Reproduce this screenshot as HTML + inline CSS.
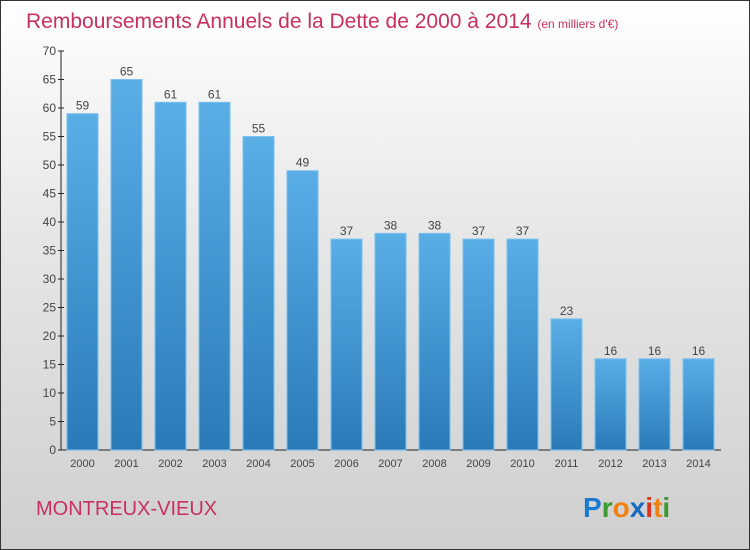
<!DOCTYPE html>
<html><head><meta charset="utf-8"><style>
body{margin:0}
#root{width:748px;height:548px;border:1px solid #333;background:linear-gradient(#ffffff,#e8e8e8 40%,#cfcfcf);position:relative;overflow:hidden;font-family:"Liberation Sans",sans-serif}
</style></head><body>
<div id="root">
<svg id="chart" width="748" height="548">
<defs><linearGradient id="bg" x1="0" y1="0" x2="0" y2="1"><stop offset="0" stop-color="#5aaee6"/><stop offset="1" stop-color="#2a7ab8"/></linearGradient></defs>
<text x="25" y="27" font-size="21" fill="#c8305e">Remboursements Annuels de la Dette de 2000 à 2014 <tspan font-size="12">(en milliers d'€)</tspan></text>
<text x="35" y="514" font-size="20" fill="#c8305e">MONTREUX-VIEUX</text>
<g font-size="28" font-weight="bold">
<text x="582" y="516"><tspan fill="#1a7ad0">P</tspan><tspan fill="#3a9a30">r</tspan><tspan fill="#f08010">o</tspan><tspan fill="#1a6ac0">x</tspan><tspan fill="#e03020">i</tspan><tspan fill="#f08010">t</tspan><tspan fill="#3a9a30">i</tspan></text></g>
<g id="plot"></g>
</svg>
</div>
<script>
const categories=["2000","2001","2002","2003","2004","2005","2006","2007","2008","2009","2010","2011","2012","2013","2014"];
const values=[59,65,61,61,55,49,37,38,38,37,37,23,16,16,16];
const ticks=[0,5,10,15,20,25,30,35,40,45,50,55,60,65,70];
const NS="http://www.w3.org/2000/svg";
const g=document.getElementById('plot');
const y=v=>449-v*(399/70);
const x=i=>66+i*44;
function mk(t,a){const e=document.createElementNS(NS,t);for(const k in a)e.setAttribute(k,a[k]);g.appendChild(e);return e;}
let ax=mk('line',{x1:60,y1:y(70),x2:60,y2:449,stroke:'#222'});


let bx=mk('line',{x1:60,y1:449,x2:720,y2:449,stroke:'#222'});


ticks.forEach(t=>{
 const l=mk('line',{x1:57,x2:63,y1:y(t),y2:y(t),stroke:'#222'});
 
 
 const tx=mk('text',{x:55,y:y(t)+4,'text-anchor':'end','font-size':12,fill:'#444'});tx.textContent=t;
 
 
});
values.forEach((v,i)=>{
 const r=mk('rect',{x:x(i),y:y(v),width:31,height:449-y(v),fill:'url(#bg)',stroke:'#7cc0ee','stroke-width':1});
 
 
 const vt=mk('text',{x:x(i)+15.5,y:y(v)-4,'text-anchor':'middle','font-size':12,fill:'#444'});vt.textContent=v;
 
 
 const ct=mk('text',{x:x(i)+15.5,y:466,'text-anchor':'middle','font-size':11,fill:'#444'});ct.textContent=categories[i];
 
 
});
</script>
</body></html>
